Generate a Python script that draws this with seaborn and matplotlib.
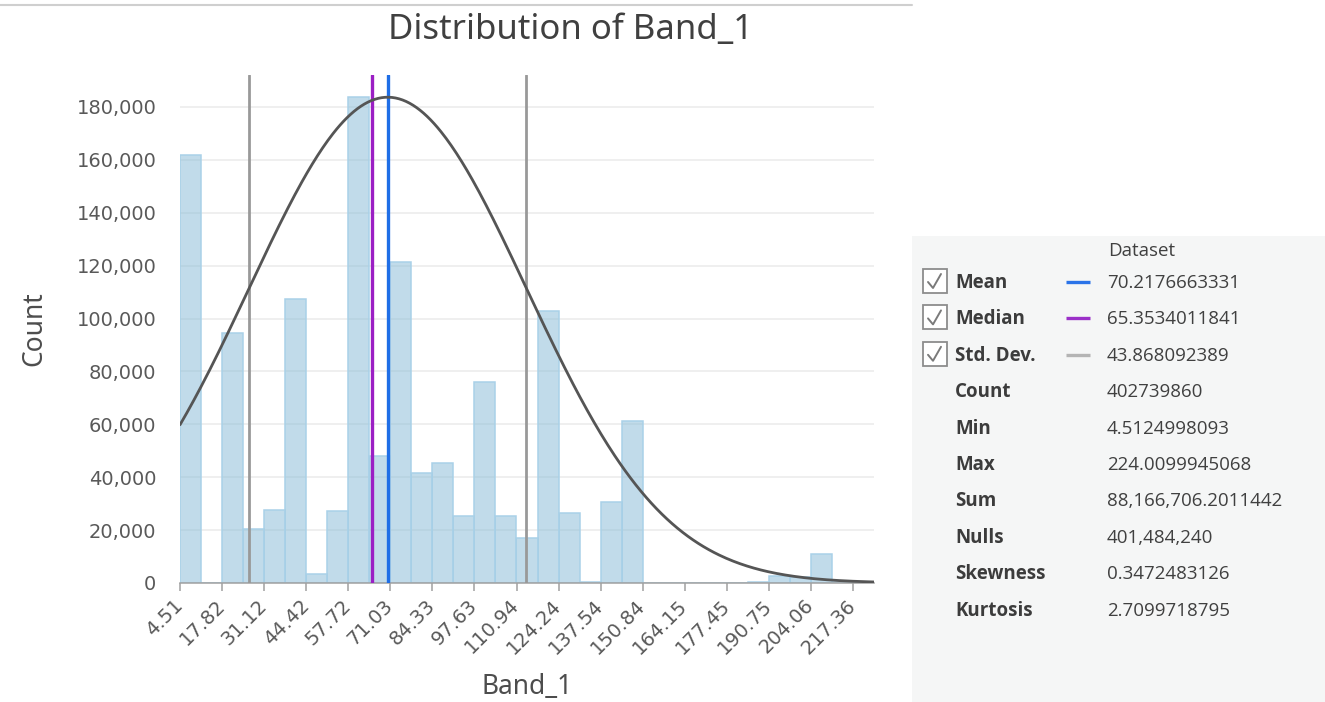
import numpy as np
import pandas as pd
import matplotlib
matplotlib.use("Agg")
import matplotlib.pyplot as plt
import seaborn as sns
from matplotlib.lines import Line2D
from matplotlib.patches import Rectangle
from matplotlib.ticker import FuncFormatter

# ---- Band_1 histogram: 33 equal-width bins from band minimum to maximum ----
band_min = 4.5124998093
band_max = 224.0099945068
bin_counts = [162000, 0, 94500, 20400, 27600, 107500, 3400, 27200, 183700, 48000,
              121400, 41500, 45300, 25300, 76100, 25300, 16900, 103000, 26400, 300,
              30500, 61300, 0, 0, 0, 0, 0, 500, 2600, 2400, 11000, 300, 0]

stat_mean = 70.2176663331
stat_median = 65.3534011841
stat_std = 43.868092389

x_tick_values = [4.51, 17.82, 31.12, 44.42, 57.72, 71.03, 84.33, 97.63, 110.94,
                 124.24, 137.54, 150.84, 164.15, 177.45, 190.75, 204.06, 217.36]
x_tick_labels = ["4.51", "17.82", "31.12", "44.42", "57.72", "71.03", "84.33",
                 "97.63", "110.94", "124.24", "137.54", "150.84", "164.15",
                 "177.45", "190.75", "204.06", "217.36"]
y_ticks = [0, 20000, 40000, 60000, 80000, 100000, 120000, 140000, 160000, 180000]

stat_names = ["Mean", "Median", "Std. Dev.", "Count", "Min", "Max", "Sum",
              "Nulls", "Skewness", "Kurtosis"]
stat_values = ["70.2176663331", "65.3534011841", "43.868092389", "402739860",
               "4.5124998093", "224.0099945068", "88,166,706.2011442",
               "401,484,240", "0.3472483126", "2.7099718795"]
stat_colors = ["#2a73e8", "#9b30c8", "#b4b4b4"]

# ---- figure ----
W, H = 1325, 702
sns.set_theme(style="white")
plt.rcParams["font.family"] = ["DejaVu Sans"]
fig = plt.figure(figsize=(W / 100, H / 100), dpi=100)
fig.patch.set_facecolor("white")

ax = fig.add_axes([180 / W, (H - 583) / H, 694 / W, (583 - 75) / H])

n_bins = len(bin_counts)
edges = np.linspace(band_min, band_max, n_bins + 1)
centers = (edges[:-1] + edges[1:]) / 2
df = pd.DataFrame({"Band_1": centers, "Count": bin_counts})

sns.histplot(data=df, x="Band_1", weights="Count", bins=n_bins,
             binrange=(band_min, band_max), ax=ax,
             color="#8ebfd9", alpha=0.55, edgecolor="#a9d1e8", linewidth=1.1,
             zorder=2)

# fitted normal curve scaled to the tallest bin
xs = np.linspace(band_min, band_max, 400)
ys = max(bin_counts) * np.exp(-0.5 * ((xs - stat_mean) / stat_std) ** 2)
sns.lineplot(x=xs, y=ys, ax=ax, color="#555555", linewidth=2.0, zorder=5)

# statistic markers
ax.axvline(stat_mean - stat_std, color="#999999", linewidth=2.0, zorder=4)
ax.axvline(stat_mean + stat_std, color="#999999", linewidth=2.0, zorder=4)
ax.axvline(stat_median, color="#9b1fc4", linewidth=2.4, zorder=4)
ax.axvline(stat_mean, color="#1f6ee6", linewidth=2.4, zorder=4)

ax.set_xlim(band_min, band_max)
ax.set_ylim(0, 192100)
ax.set_xticks(x_tick_values)
ax.set_xticklabels(x_tick_labels, rotation=45, ha="right", va="center",
                   rotation_mode="anchor")
ax.set_yticks(y_ticks)
ax.yaxis.set_major_formatter(FuncFormatter(lambda v, p: f"{int(v):,}"))
ax.tick_params(axis="x", which="major", bottom=True, length=6, width=1.1,
               color="#a0a0a0", labelsize=14, labelcolor="#595959", pad=8)
ax.tick_params(axis="y", which="major", left=False, length=0, labelsize=14,
               labelcolor="#595959", pad=17)
ax.grid(axis="y", color="#ececec", linewidth=1.2, zorder=0)
ax.grid(axis="x", visible=False)
ax.set_axisbelow(True)
for side in ["left", "right", "top"]:
    ax.spines[side].set_visible(False)
ax.spines["bottom"].set_color("#a0a0a0")
ax.spines["bottom"].set_linewidth(1.1)

ax.set_xlabel("Band_1", fontsize=19, color="#4d4d4d", family="Noto Sans",
              labelpad=11)
ax.set_ylabel("Count", fontsize=19, color="#4d4d4d", family="Noto Sans",
              labelpad=20)
fig.text(571 / W, 1 - 30 / H, "Distribution of Band_1", ha="center",
         va="center", fontsize=25, color="#404040", family="Noto Sans")

# separator line across the top
fig.add_artist(Line2D([0, 912 / W], [1 - 5 / H, 1 - 5 / H],
                      transform=fig.transFigure, color="#cfcfcf",
                      linewidth=1.5))

# ---- statistics panel ----
px0, py0, pw, ph = 912, 236, W - 912, H - 236
pax = fig.add_axes([px0 / W, 0, pw / W, ph / H])
pax.set_facecolor("#f5f6f6")
pax.set_xlim(0, pw)
pax.set_ylim(ph, 0)
pax.set_xticks([])
pax.set_yticks([])
for s in pax.spines.values():
    s.set_visible(False)

panel_font = "Open Sans"
pax.text(196, 15, "Dataset", ha="left", va="center", fontsize=13.5,
         color="#404040", family=panel_font)
row_y0, row_step = 47, 36.4
for i, (name, val) in enumerate(zip(stat_names, stat_values)):
    y = row_y0 + i * row_step
    pax.text(43, y, name, ha="left", va="center", fontsize=13.5,
             fontweight="bold", color="#3c3c3c", family=panel_font)
    pax.text(195, y, val, ha="left", va="center", fontsize=13.5,
             color="#404040", family=panel_font)
    if i < 3:
        yc = y - 2
        pax.add_patch(Rectangle((11, yc - 12), 24, 24, facecolor="white",
                                edgecolor="#8c8c8c", linewidth=1.3))
        pax.plot([16, 21, 29], [yc + 1, yc + 7, yc - 7], color="#7a7a7a",
                 linewidth=1.4, solid_capstyle="round")
        pax.plot([154, 178], [y - 1, y - 1], color=stat_colors[i],
                 linewidth=2.4, solid_capstyle="butt")

fig.savefig("out.png", dpi=100, facecolor="white")
